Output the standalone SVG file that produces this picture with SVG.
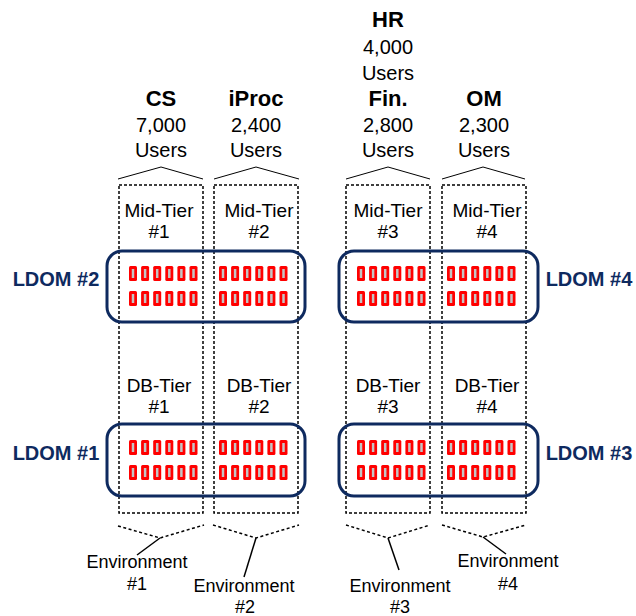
<svg xmlns="http://www.w3.org/2000/svg" xmlns:xlink="http://www.w3.org/1999/xlink" width="636" height="616" viewBox="0 0 636 616">
<style>
  text { font-family: "Liberation Sans", Arial, sans-serif; fill: #000; text-anchor: middle; }
  .title { font-size: 22px; font-weight: bold; }
  .hdr { font-size: 20px; }
  .tier { font-size: 19px; }
  .lbl { font-size: 18px; }
  .ldom { font-size: 20px; font-weight: bold; fill: #0e2a5f; }
  .col { fill: none; stroke: #000; stroke-width: 1.5; stroke-dasharray: 3 2; }
  .box { fill: none; stroke: #0e2a5f; stroke-width: 3; }
  .brk { fill: none; stroke: #000; stroke-width: 1; }
  .dbrk { fill: none; stroke: #000; stroke-width: 1.5; stroke-dasharray: 3 2.5; }
  .lead { fill: none; stroke: #000; stroke-width: 1.5; }
</style>
<defs>
  <g id="chip"><rect x="0" y="0" width="8" height="15" rx="1.5" fill="#ff0000"/><rect x="2.75" y="3" width="2.5" height="9" fill="#c4c4c4"/></g>
  <g id="row">
    <use xlink:href="#chip" x="0"/><use xlink:href="#chip" x="12.1"/><use xlink:href="#chip" x="24.2"/>
    <use xlink:href="#chip" x="36.3"/><use xlink:href="#chip" x="48.4"/><use xlink:href="#chip" x="60.5"/>
  </g>
  <g id="bank"><use xlink:href="#row" y="0"/><use xlink:href="#row" y="25"/></g>
</defs>

<g id="headers">
  <g id="hdr-cs"><text class="title" x="161" y="106">CS</text><text class="hdr" x="161" y="132">7,000</text><text class="hdr" x="161" y="157">Users</text></g>
  <g id="hdr-iproc"><text class="title" x="256" y="106">iProc</text><text class="hdr" x="256" y="132">2,400</text><text class="hdr" x="256" y="157">Users</text></g>
  <g id="hdr-hr"><text class="title" x="388" y="27">HR</text><text class="hdr" x="388" y="54">4,000</text><text class="hdr" x="388" y="80">Users</text>
    <text class="title" x="388" y="106">Fin.</text><text class="hdr" x="388" y="132">2,800</text><text class="hdr" x="388" y="157">Users</text></g>
  <g id="hdr-om"><text class="title" x="484" y="106">OM</text><text class="hdr" x="484" y="132">2,300</text><text class="hdr" x="484" y="157">Users</text></g>
</g>

<g id="columns">
  <g id="col1"><rect class="col" x="119" y="185" width="84" height="328"/>
    <text class="tier" x="159" y="217">Mid-Tier</text><text class="tier" x="159" y="238">#1</text>
    <text class="tier" x="159" y="392">DB-Tier</text><text class="tier" x="159" y="413">#1</text></g>
  <g id="col2"><rect class="col" x="214" y="185" width="84" height="328"/>
    <text class="tier" x="259" y="217">Mid-Tier</text><text class="tier" x="259" y="238">#2</text>
    <text class="tier" x="259" y="392">DB-Tier</text><text class="tier" x="259" y="413">#2</text></g>
  <g id="col3"><rect class="col" x="346" y="185" width="84" height="328"/>
    <text class="tier" x="388" y="217">Mid-Tier</text><text class="tier" x="388" y="238">#3</text>
    <text class="tier" x="388" y="392">DB-Tier</text><text class="tier" x="388" y="413">#3</text></g>
  <g id="col4"><rect class="col" x="442" y="185" width="84" height="328"/>
    <text class="tier" x="487" y="217">Mid-Tier</text><text class="tier" x="487" y="238">#4</text>
    <text class="tier" x="487" y="392">DB-Tier</text><text class="tier" x="487" y="413">#4</text></g>
</g>

<g id="ldom2"><rect class="box" x="107" y="251" width="198" height="71" rx="15"/>
  <use xlink:href="#bank" x="129" y="266"/><use xlink:href="#bank" x="219" y="266"/>
  <text class="ldom" x="56" y="286">LDOM #2</text></g>
<g id="ldom4"><rect class="box" x="339" y="251" width="199" height="71" rx="15"/>
  <use xlink:href="#bank" x="357" y="266"/><use xlink:href="#bank" x="447" y="266"/>
  <text class="ldom" x="589" y="286">LDOM #4</text></g>
<g id="ldom1"><rect class="box" x="107" y="424" width="198" height="72" rx="15"/>
  <use xlink:href="#bank" x="129" y="440"/><use xlink:href="#bank" x="219" y="440"/>
  <text class="ldom" x="56" y="460">LDOM #1</text></g>
<g id="ldom3"><rect class="box" x="339" y="424" width="199" height="72" rx="15"/>
  <use xlink:href="#bank" x="357" y="440"/><use xlink:href="#bank" x="447" y="440"/>
  <text class="ldom" x="589" y="460">LDOM #3</text></g>

<g id="envs">
  <g id="env1"><text class="lbl" x="137" y="568">Environment</text><text class="lbl" x="137" y="590">#1</text></g>
  <g id="env2"><text class="lbl" x="244" y="592">Environment</text><text class="lbl" x="245" y="613">#2</text></g>
  <g id="env3"><text class="lbl" x="400" y="592">Environment</text><text class="lbl" x="400" y="613">#3</text></g>
  <g id="env4"><text class="lbl" x="508" y="567">Environment</text><text class="lbl" x="508" y="590">#4</text></g>
</g>

<g id="connectors">
  <polyline class="brk" points="118,179 161,167 203,179"/>
  <polyline class="brk" points="214,179 256,167 299,179"/>
  <polyline class="brk" points="346,179 388,167 430,179"/>
  <polyline class="brk" points="442,179 483,167 525,179"/>
  <polyline class="dbrk" points="118,526 160,538 204,525"/>
  <polyline class="dbrk" points="213,525 256,538 299,525"/>
  <polyline class="dbrk" points="346,525 388,538 430,525"/>
  <polyline class="dbrk" points="442,525 483,537 526,525"/>
  <line class="lead" x1="160" y1="538" x2="137" y2="555"/>
  <line class="lead" x1="256" y1="538" x2="244" y2="577"/>
  <line class="lead" x1="388" y1="538" x2="399" y2="570"/>
  <line class="lead" x1="483" y1="537" x2="506" y2="554"/>
</g>
</svg>
